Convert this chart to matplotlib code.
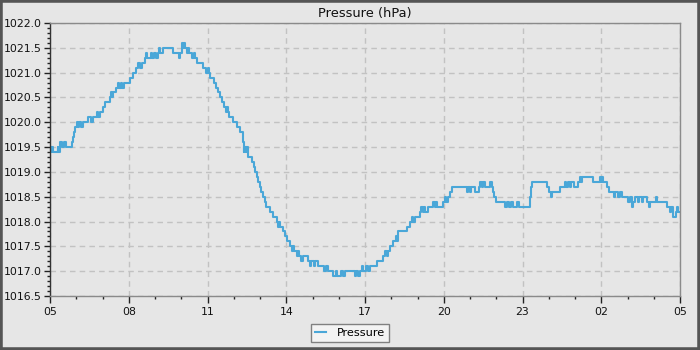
import matplotlib
matplotlib.use("Agg")
import matplotlib.pyplot as plt
from matplotlib.patches import Rectangle
from matplotlib.ticker import MultipleLocator

# hours since 05:00 (step changes) and pressure values (hPa)
hours = [
    0.00, 0.04, 0.08, 0.10, 0.30, 0.32, 0.38, 0.44, 0.55, 0.62, 0.84, 0.88, 0.92, 0.95,
    1.03, 1.08, 1.12, 1.18, 1.26, 1.45, 1.58, 1.62, 1.80, 1.84, 1.90, 2.02, 2.10, 2.29,
    2.34, 2.37, 2.40, 2.52, 2.59, 2.64, 2.70, 2.74, 2.80, 3.05, 3.16, 3.26, 3.35, 3.42,
    3.50, 3.62, 3.66, 3.70, 3.85, 3.90, 3.98, 4.03,
    4.10, 4.16, 4.20, 4.30, 4.69, 4.90, 4.94, 5.03, 5.06, 5.10, 5.16, 5.22, 5.26, 5.30,
    5.41, 5.48, 5.52, 5.60, 5.83, 5.95, 6.00, 6.05, 6.10, 6.25, 6.32, 6.40, 6.48, 6.55,
    6.63, 6.72, 6.76, 6.79, 6.82, 6.97, 7.12, 7.24, 7.35, 7.38, 7.40, 7.45, 7.48, 7.54,
    7.70, 7.76, 7.81, 7.88, 7.92,
    8.00, 8.05, 8.11, 8.18, 8.22, 8.38, 8.50, 8.65, 8.70, 8.74, 8.76, 8.88, 8.95, 9.03,
    9.14, 9.22, 9.26, 9.30, 9.40, 9.45, 9.50, 9.57, 9.62, 9.83, 9.90, 9.95, 10.05, 10.10,
    10.20, 10.45, 10.50, 10.60, 10.78, 10.90, 10.95, 11.10, 11.15, 11.25, 11.62, 11.67,
    11.75, 11.80, 11.89, 11.92,
    12.05, 12.11, 12.20, 12.46, 12.69, 12.76, 12.82, 12.86, 12.95, 13.07, 13.18, 13.22,
    13.26, 13.60, 13.71, 13.79, 13.84, 13.90, 14.10, 14.13, 14.20, 14.25, 14.30, 14.40,
    14.59, 14.65, 14.70, 14.74, 14.97, 15.05, 15.09, 15.15, 15.24, 15.30, 15.89, 15.92,
    16.00, 16.03, 16.19, 16.35, 16.40, 16.47, 16.50, 16.57, 16.76, 16.84, 16.88, 16.93,
    17.00, 17.33, 17.42, 17.48, 17.55, 17.62, 17.78, 17.85, 18.29, 18.31, 18.36, 18.93,
    19.01, 19.10, 19.14, 19.43, 19.62, 19.67, 19.72, 19.81,
    19.85, 19.95, 20.11, 20.20, 20.24, 20.27, 20.69, 20.95, 21.00, 21.03, 21.07, 21.22,
    21.30, 21.50, 21.53, 21.65, 21.70, 21.80, 22.02, 22.10, 22.17, 22.22, 22.29, 22.40,
    22.45, 22.55, 22.60, 22.74, 22.82, 22.86, 23.10, 23.13, 23.50, 23.62, 23.65, 23.73,
    23.85, 23.90, 23.93, 23.96,
]
pressure = [
    1019.5, 1019.4, 1019.5, 1019.4, 1019.5, 1019.4, 1019.6, 1019.5, 1019.6, 1019.5, 1019.6, 1019.7, 1019.8, 1019.9,
    1020.0, 1019.9, 1020.0, 1019.9, 1020.0, 1020.1, 1020.0, 1020.1, 1020.2, 1020.1, 1020.2, 1020.3, 1020.4, 1020.5,
    1020.6, 1020.5, 1020.6, 1020.7, 1020.8, 1020.7, 1020.8, 1020.7, 1020.8, 1020.9, 1021.0, 1021.1, 1021.2, 1021.1,
    1021.2, 1021.3, 1021.4, 1021.3, 1021.4, 1021.3, 1021.4, 1021.3,
    1021.4, 1021.5, 1021.4, 1021.5, 1021.4, 1021.3, 1021.4, 1021.6, 1021.5, 1021.6, 1021.5, 1021.4, 1021.5, 1021.4,
    1021.3, 1021.4, 1021.3, 1021.2, 1021.1, 1021.0, 1021.1, 1021.0, 1020.9, 1020.8, 1020.7, 1020.6, 1020.5, 1020.4,
    1020.3, 1020.2, 1020.3, 1020.2, 1020.1, 1020.0, 1019.9, 1019.8, 1019.6, 1019.4, 1019.5, 1019.4, 1019.5, 1019.3,
    1019.2, 1019.1, 1019.0, 1018.9, 1018.8,
    1018.7, 1018.6, 1018.5, 1018.4, 1018.3, 1018.2, 1018.1, 1018.0, 1017.9, 1018.0, 1017.9, 1017.8, 1017.7, 1017.6,
    1017.5, 1017.4, 1017.5, 1017.4, 1017.3, 1017.4, 1017.3, 1017.2, 1017.3, 1017.2, 1017.1, 1017.2, 1017.1, 1017.2,
    1017.1, 1017.0, 1017.1, 1017.0, 1016.9, 1017.0, 1016.9, 1017.0, 1016.9, 1017.0, 1016.9, 1017.0,
    1016.9, 1017.0, 1017.1, 1017.0,
    1017.1, 1017.0, 1017.1, 1017.2, 1017.3, 1017.4, 1017.3, 1017.4, 1017.5, 1017.6, 1017.7, 1017.6,
    1017.8, 1017.9, 1018.0, 1018.1, 1018.0, 1018.1, 1018.2, 1018.3, 1018.2, 1018.3, 1018.2, 1018.3,
    1018.4, 1018.3, 1018.4, 1018.3, 1018.4, 1018.5, 1018.4, 1018.5, 1018.6, 1018.7, 1018.6, 1018.7,
    1018.6, 1018.7, 1018.6, 1018.7, 1018.8, 1018.7, 1018.8, 1018.7, 1018.8, 1018.7, 1018.6, 1018.5,
    1018.4, 1018.3, 1018.4, 1018.3, 1018.4, 1018.3, 1018.4, 1018.3, 1018.5, 1018.7, 1018.8, 1018.7,
    1018.6, 1018.5, 1018.6, 1018.7, 1018.8, 1018.7, 1018.8, 1018.7,
    1018.8, 1018.7, 1018.8, 1018.9, 1018.8, 1018.9, 1018.8, 1018.9, 1018.8, 1018.9, 1018.8, 1018.7,
    1018.6, 1018.5, 1018.6, 1018.5, 1018.6, 1018.5, 1018.4, 1018.5, 1018.3, 1018.4, 1018.5, 1018.4,
    1018.5, 1018.4, 1018.5, 1018.4, 1018.3, 1018.4, 1018.5, 1018.4, 1018.3, 1018.2, 1018.3, 1018.1,
    1018.2, 1018.3, 1018.2, 1018.2,
]
tick_hours = [0, 3, 6, 9, 12, 15, 18, 21, 24]
tick_labels = ["05", "08", "11", "14", "17", "20", "23", "02", "05"]

BG = "#e6e6e6"
LINE = "#4aa7d8"

fig = plt.figure(figsize=(7, 3.5), dpi=100, facecolor=BG)
ax = fig.add_axes([50/700, 1-296/350, 630/700, 273/350])
ax.set_facecolor(BG)

ax.plot(hours, pressure, drawstyle="steps-post", color=LINE, lw=1.5, label="Pressure")

ax.set_xlim(0, 24)
ax.set_ylim(1016.5, 1022.0)
ax.set_xticks(tick_hours)
ax.set_xticklabels(tick_labels)
ax.xaxis.set_minor_locator(MultipleLocator(1))
ax.yaxis.set_major_locator(MultipleLocator(0.5))
ax.yaxis.set_minor_locator(MultipleLocator(0.1))
ax.yaxis.set_major_formatter(matplotlib.ticker.FormatStrFormatter("%.1f"))

ax.grid(True, which="major", color="#c2c2c2", linestyle=(0, (4, 3)), lw=1)
ax.set_axisbelow(True)
for s in ax.spines.values():
    s.set_color("#8a8a8a")
    s.set_linewidth(1)
ax.spines["left"].set_color("#333333")

ax.tick_params(axis="both", which="major", length=4, width=1, color="#222222",
               labelsize=7.8, labelcolor="#111111", pad=2)
ax.tick_params(axis="both", which="minor", length=2.5, width=1, color="#222222")
ax.tick_params(axis="x", which="major", length=5, pad=3)

ax.set_title("Pressure (hPa)", fontsize=9.4, color="#111111", pad=4)

leg = fig.legend(loc="lower center", bbox_to_anchor=(0.5, 0.008), fontsize=8.1,
                 frameon=True, fancybox=False, edgecolor="#808080", facecolor="#f3f3f3",
                 framealpha=1, handlelength=1.0, borderpad=0.35, handletextpad=1.0)
leg.get_frame().set_linewidth(1)

fig.patches.append(Rectangle((0, 0), 1, 1, transform=fig.transFigure, fill=False,
                             edgecolor="#555555", lw=4, zorder=10))

fig.savefig("out.png", dpi=100, facecolor=BG)
